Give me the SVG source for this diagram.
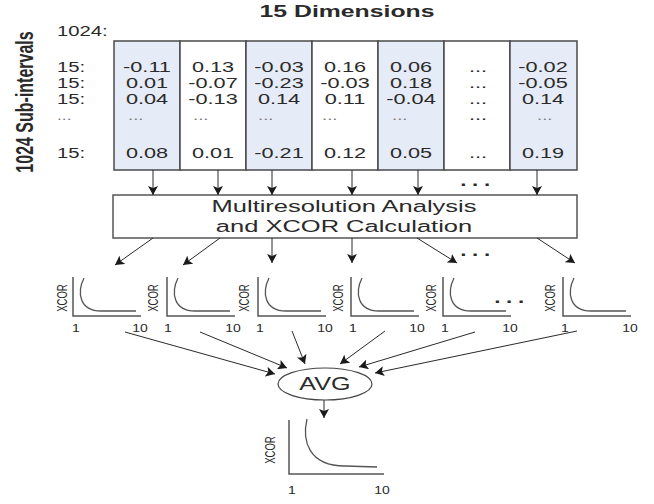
<svg xmlns="http://www.w3.org/2000/svg" width="654" height="504" viewBox="0 0 654 504">
<defs>
<style>
text{font-family:"Liberation Sans",Arial,sans-serif;fill:#2a2a2a}
.num{font-size:14px;text-anchor:middle}
.lab{font-size:14px;text-anchor:start}
.dim{font-size:12px;fill:#777}
.col{stroke:#4a4a4a;stroke-width:1.5}
.sh{fill:#e6ecf7}
.wh{fill:#ffffff}
.ax{fill:none;stroke:#555;stroke-width:1.5}
.cv{fill:none;stroke:#555;stroke-width:1.3}
.xc{font-size:9.5px;text-anchor:middle}
.tk{font-size:10px;text-anchor:middle}
.con line{stroke:#2a2a2a;stroke-width:1;marker-end:url(#ah)}
.dots{font-size:16px;font-weight:bold;text-anchor:middle;letter-spacing:4px}
</style>
<marker id="ah" markerWidth="10" markerHeight="10" refX="9" refY="5" orient="auto" markerUnits="userSpaceOnUse">
<path d="M0,0 L9,5 L0,10 L2,5 z" fill="#1a1a1a"/>
</marker>
<g id="curve"><path class="ax" d="M0,0 V39 H68"/><path class="cv" d="M11,1 C4,15 6,34 28,34 L63,34"/></g>
</defs>
<rect width="654" height="504" fill="#fff"/>

<g id="title"><text transform="translate(347,17) scale(1.55,1)" font-size="16" font-weight="bold" text-anchor="middle" fill="#111">15 Dimensions</text></g>
<g id="ylabel"><text transform="translate(33,102) scale(1.5,1) rotate(-90)" font-size="16" font-weight="bold" text-anchor="middle" fill="#111">1024 Sub-intervals</text></g>

<g id="rowlabels" transform="translate(57,0) scale(1.45,1)">
<text class="lab" x="0" y="36">1024:</text>
<text class="lab" y="72">15:</text>
<text class="lab" y="88">15:</text>
<text class="lab" y="104">15:</text>
<text class="lab dim" y="120">...</text>
<text class="lab" y="158">15:</text>
</g>

<g id="columns">
<rect class="col sh" x="114" y="41" width="66" height="129"/>
<rect class="col wh" x="180" y="41" width="66" height="129"/>
<rect class="col sh" x="246" y="41" width="66" height="129"/>
<rect class="col wh" x="312" y="41" width="66" height="129"/>
<rect class="col sh" x="378" y="41" width="66" height="129"/>
<rect class="col wh" x="444" y="41" width="66" height="129"/>
<rect class="col sh" x="510" y="41" width="67" height="129"/>
</g>

<g id="col1" transform="translate(147,0) scale(1.55,1)">
<text class="num" y="72">-0.11</text><text class="num" y="88">0.01</text><text class="num" y="104">0.04</text><text class="num" y="158">0.08</text>
</g>
<g id="col1d" transform="translate(128,0) scale(1.55,1)"><text class="dim" y="120">...</text></g>
<g id="col2" transform="translate(213,0) scale(1.55,1)">
<text class="num" y="72">0.13</text><text class="num" y="88">-0.07</text><text class="num" y="104">-0.13</text><text class="num" y="158">0.01</text>
</g>
<g id="col2d" transform="translate(193,0) scale(1.55,1)"><text class="dim" y="120">...</text></g>
<g id="col3" transform="translate(279,0) scale(1.55,1)">
<text class="num" y="72">-0.03</text><text class="num" y="88">-0.23</text><text class="num" y="104">0.14</text><text class="num" y="158">-0.21</text>
</g>
<g id="col3d" transform="translate(258,0) scale(1.55,1)"><text class="dim" y="120">...</text></g>
<g id="col4" transform="translate(345,0) scale(1.55,1)">
<text class="num" y="72">0.16</text><text class="num" y="88">-0.03</text><text class="num" y="104">0.11</text><text class="num" y="158">0.12</text>
</g>
<g id="col4d" transform="translate(322,0) scale(1.55,1)"><text class="dim" y="120">...</text></g>
<g id="col5" transform="translate(411,0) scale(1.55,1)">
<text class="num" y="72">0.06</text><text class="num" y="88">0.18</text><text class="num" y="104">-0.04</text><text class="num" y="158">0.05</text>
</g>
<g id="col5d" transform="translate(392,0) scale(1.55,1)"><text class="dim" y="120">...</text></g>
<g id="col6" transform="translate(478,0) scale(1.55,1)">
<text class="num" y="72">...</text><text class="num" y="88">...</text><text class="num" y="104">...</text><text class="num" y="120" fill="#777" font-size="12">...</text><text class="num" y="158">...</text>
</g>
<g id="col7" transform="translate(543,0) scale(1.55,1)">
<text class="num" y="72">-0.02</text><text class="num" y="88">-0.05</text><text class="num" y="104">0.14</text><text class="num" y="158">0.19</text>
</g>
<g id="col7d" transform="translate(537,0) scale(1.55,1)"><text class="dim" y="120">...</text></g>

<g id="process">
<rect x="113" y="195" width="464" height="43" fill="#fff" stroke="#555" stroke-width="1.5"/>
<text transform="translate(344,212) scale(1.5,1)" font-size="17" text-anchor="middle">Multiresolution Analysis</text>
<text transform="translate(344,232) scale(1.5,1)" font-size="17" text-anchor="middle">and XCOR Calculation</text>
</g>

<g id="charts">
<g id="chart1"><use href="#curve" x="73" y="277"/><text class="xc" transform="translate(67,298) scale(1.5,1) rotate(-90)">XCOR</text><text class="tk" transform="translate(76,332) scale(1.4,1)">1</text><text class="tk" transform="translate(140,332) scale(1.4,1)">10</text></g>
<g id="chart2"><use href="#curve" x="167" y="277"/><text class="xc" transform="translate(158,298) scale(1.5,1) rotate(-90)">XCOR</text><text class="tk" transform="translate(168,332) scale(1.4,1)">1</text><text class="tk" transform="translate(233,332) scale(1.4,1)">10</text></g>
<g id="chart3"><use href="#curve" x="258" y="277"/><text class="xc" transform="translate(249,298) scale(1.5,1) rotate(-90)">XCOR</text><text class="tk" transform="translate(260,332) scale(1.4,1)">1</text><text class="tk" transform="translate(325,332) scale(1.4,1)">10</text></g>
<g id="chart4"><use href="#curve" x="351" y="277"/><text class="xc" transform="translate(343,298) scale(1.5,1) rotate(-90)">XCOR</text><text class="tk" transform="translate(353,332) scale(1.4,1)">1</text><text class="tk" transform="translate(417,332) scale(1.4,1)">10</text></g>
<g id="chart5"><use href="#curve" x="443" y="277"/><text class="xc" transform="translate(436,298) scale(1.5,1) rotate(-90)">XCOR</text><text class="tk" transform="translate(445,332) scale(1.4,1)">1</text><text class="tk" transform="translate(510,332) scale(1.4,1)">10</text></g>
<g id="chart6"><use href="#curve" x="563" y="277"/><text class="xc" transform="translate(555,298) scale(1.5,1) rotate(-90)">XCOR</text><text class="tk" transform="translate(565,332) scale(1.4,1)">1</text><text class="tk" transform="translate(630,332) scale(1.4,1)">10</text></g>
</g>

<g id="avg">
<ellipse cx="325" cy="384" rx="47" ry="16" fill="#fff" stroke="#444" stroke-width="1.2"/>
<text transform="translate(325,390) scale(1.4,1)" font-size="18" text-anchor="middle">AVG</text>
</g>

<g id="final">
<path class="ax" d="M289,420 V474 H384"/>
<path class="cv" d="M307,419 C302,440 308,466 345,466 L377,467"/>
<text class="xc" font-size="9" transform="translate(275,450) scale(1.5,1) rotate(-90)">XCOR</text>
<text class="tk" transform="translate(292,494) scale(1.4,1)">1</text>
<text class="tk" transform="translate(382,494) scale(1.4,1)">10</text>
</g>

<g id="connectors" class="con">
<line x1="153" y1="170" x2="153" y2="195"/>
<line x1="218" y1="170" x2="218" y2="195"/>
<line x1="272" y1="170" x2="272" y2="195"/>
<line x1="352" y1="170" x2="352" y2="195"/>
<line x1="418" y1="170" x2="418" y2="195"/>
<line x1="537" y1="170" x2="537" y2="195"/>
<line x1="153" y1="238" x2="115" y2="265"/>
<line x1="220" y1="238" x2="183" y2="265"/>
<line x1="272" y1="238" x2="272" y2="263"/>
<line x1="352" y1="238" x2="352" y2="263"/>
<line x1="417" y1="238" x2="457" y2="263"/>
<line x1="537" y1="238" x2="575" y2="263"/>
<line x1="125" y1="332" x2="275" y2="374"/>
<line x1="200" y1="332" x2="287" y2="368"/>
<line x1="292" y1="331" x2="305" y2="364"/>
<line x1="385" y1="331" x2="340" y2="364"/>
<line x1="475" y1="332" x2="359" y2="367"/>
<line x1="577" y1="331" x2="375" y2="373"/>
<line x1="324" y1="400" x2="324" y2="418"/>
</g>

<g id="ellipses">
<text class="dots" transform="translate(478,186) scale(1.4,1)">...</text>
<text class="dots" transform="translate(478,256) scale(1.4,1)">...</text>
<text class="dots" transform="translate(512,303) scale(1.4,1)">...</text>
</g>
</svg>
